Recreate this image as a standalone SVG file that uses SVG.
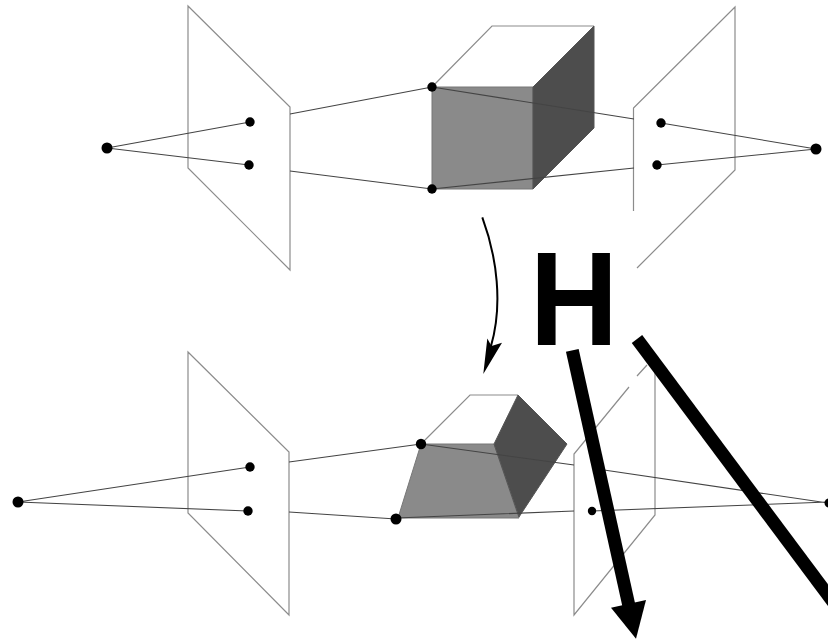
<svg xmlns="http://www.w3.org/2000/svg" width="828" height="640" viewBox="0 0 828 640">
<defs>
<style>
.plane{fill:none;stroke:#8c8c8c;stroke-width:1.2}
.edge{fill:none;stroke:#8c8c8c;stroke-width:1.2}
.ray{fill:none;stroke:#444;stroke-width:1.1}
.front{fill:#8a8a8a;stroke:#777;stroke-width:1}
.side{fill:#4d4d4d;stroke:#555;stroke-width:1}
.dot{fill:#000}
.thick{fill:none;stroke:#000;stroke-width:13}
.h{font-family:"Liberation Sans",Arial,sans-serif;font-weight:700;font-size:132.7px;fill:#000}
</style>
</defs>
<rect width="828" height="640" fill="#fff"/>
<g id="plane-top-left"><path class="plane" d="M188 6L290 107V270L188 168Z"/></g>
<g id="plane-top-right"><path class="plane" d="M633.500 211V108L735 7V170L637 268"/></g>
<g id="plane-bottom-left"><path class="plane" d="M188 352L289 452V615L188 513Z"/></g>
<g id="plane-bottom-right"><path class="plane" d="M629 387L574 454V615L655 515V373M637 376L647 365"/></g>
<g id="cube-top">
<path class="edge" d="M432 87L492 26H594"/>
<path class="front" d="M432 87H533V189H432Z"/>
<path class="side" d="M533 87L594 26V128L533 189Z"/>
</g>
<g id="cube-bottom">
<path class="edge" d="M421 444L470 395H518"/>
<path class="front" d="M421 444H494L519 518H398Z"/>
<path class="side" d="M494 444L518 395L567 444L519 517Z"/>
</g>
<g id="connectors">
<path class="ray" d="M107 148L250 122M107 148L249 165M290 114L432 87M290 171L432 189M432 87L634 119M432 189L634 168M661 123L816 149M657 165L816 149"/>
<path class="ray" d="M18 502L250 467M18 502L248 511M289 462L421 444M289 512L396 519M421 444L574 465M604 470L828 503M396 518L574 511M592 511L828 502"/>
<path fill="none" stroke="#000" stroke-width="2" d="M482.300 217.300C497 257 503 305 491 346"/>
<path fill="#000" d="M483.300 374L487.300 338.500L491.500 346L502 342.700Z"/>
<path class="thick" d="M572.300 350.300L629 606"/>
<path fill="#000" d="M636 638.700L611 607.700L646 600Z"/>
<path class="thick" d="M637 339L842 614"/>
</g>
<g id="points">
<circle class="dot" cx="107" cy="148" r="5.500"/><circle class="dot" cx="250" cy="122" r="4.700"/><circle class="dot" cx="249" cy="165" r="4.700"/>
<circle class="dot" cx="432" cy="87" r="4.700"/><circle class="dot" cx="432" cy="189" r="4.700"/>
<circle class="dot" cx="661" cy="123" r="4.700"/><circle class="dot" cx="657" cy="165" r="4.700"/><circle class="dot" cx="816" cy="149" r="5.500"/>
<circle class="dot" cx="18" cy="502" r="5.500"/><circle class="dot" cx="250" cy="467" r="4.700"/><circle class="dot" cx="248" cy="511" r="4.700"/>
<circle class="dot" cx="421" cy="444" r="5.200"/><circle class="dot" cx="396" cy="519" r="5.500"/>
<circle class="dot" cx="592" cy="511" r="4.200"/><circle class="dot" cx="829" cy="503" r="4.500"/>
</g>
<g id="label-h"><text class="h" transform="translate(529.800 345) scale(.923 1)">H</text></g>
</svg>
